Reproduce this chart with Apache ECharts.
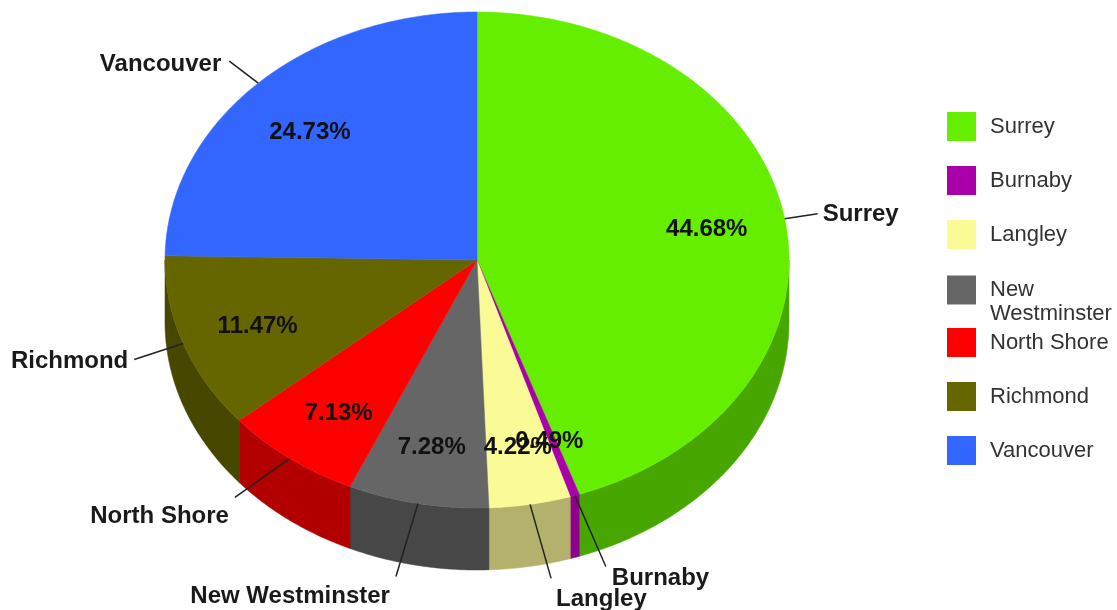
<!DOCTYPE html>
<html>
<head>
<meta charset="utf-8">
<style>html,body{margin:0;padding:0;background:#fff}#c{width:1117px;height:610px}</style>
<script src="https://cdn.jsdelivr.net/npm/echarts@6/dist/echarts.min.js"></script>
</head>
<body>
<div id="c"></div>
<script>
const categories = ['Surrey','Burnaby','Langley','New Westminster','North Shore','Richmond','Vancouver'];
const shares = [44.68,0.49,4.22,7.28,7.13,11.47,24.73];
const topColors = ['#66EE00','#AA00AA','#FAFA96','#666666','#FF0000','#666600','#3366FF'];
const sideColors = ['#47A600','#8F008F','#B3B16B','#474747','#B20000','#474700','#2447B3'];
// leader end offset from rim [dx,dy]; label offset from leader end [dx,dy,align]
const leaderEnds = [[33,-5],[31,71],[21,74],[-22,73],[-55,39],[-49,16],[-29,-22]];
const labelOffsets = [[5,1,'left'],[6,12,'left'],[5,21,'left'],[-6,20,'right'],[-6,19,'right'],[-6,2,'right'],[-8,3,'right']];
const pctNudges = [[-1,0],[-1,5],[1,4],[-1,5],[2,5],[1,4],[-3,5]];
const pctRadius = 0.75, depth = 0.25, FONT = '"Liberation Sans",Arial,sans-serif';

const starts = [];
shares.reduce((s,v,i)=>{starts[i]=s;return s+v;},0);
const ang = p => p/100*2*Math.PI;
const rim = (t,r=1,dy=0) => [r*Math.sin(t), r*Math.cos(t)-dy];

function arcPts(api,t0,t1,dy){
  const n = Math.max(2,Math.ceil((t1-t0)/0.01)), pts=[];
  for(let i=0;i<=n;i++) pts.push(api.coord(rim(t0+(t1-t0)*i/n,1,dy)));
  return pts;
}
function renderItem(params,api){
  const i = params.seriesIndex, s = api.value(0), v = api.value(1);
  const t0 = ang(s), t1 = ang(s+v), mid = (t0+t1)/2;
  const children = [];
  const lo = Math.max(t0,Math.PI/2), hi = Math.min(t1,Math.PI*1.5);
  if(hi>lo){
    children.push({type:'polygon',z2:1,shape:{points:arcPts(api,lo,hi,0).concat(arcPts(api,lo,hi,depth).reverse())},
      style:{fill:sideColors[i],stroke:sideColors[i],lineWidth:0.5}});
  }
  children.push({type:'polygon',z2:2,shape:{points:[api.coord([0,0])].concat(arcPts(api,t0,t1,0))},
    style:{fill:topColors[i],stroke:topColors[i],lineWidth:0.5}});
  const a = api.coord(rim(mid));
  const e = [a[0]+leaderEnds[i][0],a[1]+leaderEnds[i][1]];
  children.push({type:'line',z2:3,shape:{x1:a[0],y1:a[1],x2:e[0],y2:e[1]},style:{stroke:'#222',lineWidth:1.5}});
  children.push({type:'text',z2:4,x:e[0]+labelOffsets[i][0],y:e[1]+labelOffsets[i][1],
    style:{text:categories[i],font:'bold 24px '+FONT,fill:'#1a1a1a',align:labelOffsets[i][2],verticalAlign:'middle'}});
  const c = api.coord(rim(mid,pctRadius));
  children.push({type:'text',z2:5,x:c[0]+pctNudges[i][0],y:c[1]+pctNudges[i][1],
    style:{text:v.toFixed(2)+'%',font:'bold 24px '+FONT,fill:'#111',align:'center',verticalAlign:'middle'}});
  return {type:'group',children};
}

const chart = echarts.init(document.getElementById('c'),null,{renderer:'canvas'});
chart.setOption({
  animation:false,
  backgroundColor:'#fff',
  grid:{left:165,top:12,width:624,height:558},
  xAxis:{type:'value',min:-1,max:1,show:false},
  yAxis:{type:'value',min:-1.25,max:1,show:false},
  legend:categories.map((n,i)=>({
    data:[n],orient:'vertical',left:947,top:i===3?112+54*i-20:112+54*i,padding:0,
    itemWidth:29,itemHeight:29,itemGap:0,icon:'rect',selectedMode:false,
    formatter:x=>x==='New Westminster'?'\nNew\nWestminster':x,
    textStyle:{fontFamily:FONT,fontSize:22,color:'#333',lineHeight:24,padding:[0,0,0,9]},
    itemStyle:{borderWidth:0}
  })),
  series:categories.map((n,i)=>({
    name:n,type:'custom',coordinateSystem:'cartesian2d',silent:true,
    itemStyle:{color:topColors[i]},
    data:[[starts[i],shares[i]]],
    encode:{x:0,y:1},
    renderItem
  }))
});
</script>
</body>
</html>
